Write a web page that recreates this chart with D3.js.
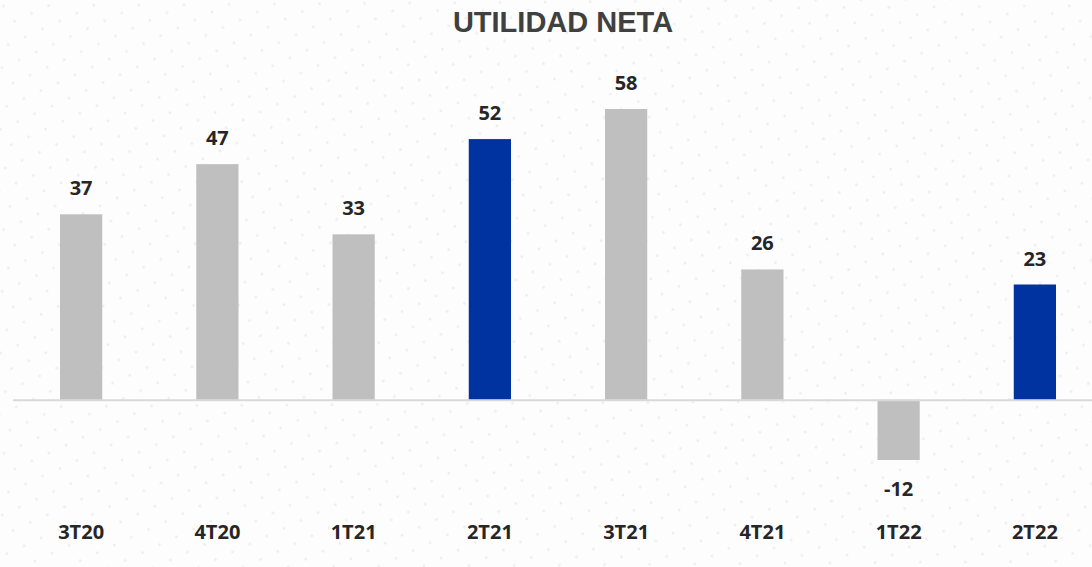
<!DOCTYPE html>
<html lang="es">
<head>
<meta charset="UTF-8">
<title>Utilidad neta</title>
<script src="https://cdn.jsdelivr.net/npm/d3@7"></script>
<style>
  body { margin: 0; background: #fdfdfd; }
  svg { display: block; }
</style>
</head>
<body>
<div id="root"></div>
<script>
  // datos
  const quarters = ['3T20', '4T20', '1T21', '2T21', '3T21', '4T21', '1T22', '2T22'];
  const utilidad = [37, 47, 33, 52, 58, 26, -12, 23];
  const highlighted = ['2T21', '2T22'];

  const width = 1092, height = 567;
  const grey = '#bfbfbf', blue = '#0033a0';

  const svg = d3.select('#root').append('svg')
    .attr('width', width)
    .attr('height', height);

  // fondo punteado tenue
  const pat = svg.append('defs').append('pattern')
    .attr('id', 'dots')
    .attr('width', 29).attr('height', 24)
    .attr('patternUnits', 'userSpaceOnUse')
    .attr('patternTransform', 'rotate(15)');
  pat.append('circle').attr('cx', 5).attr('cy', 5).attr('r', 1.4).attr('fill', '#eeeeee');
  pat.append('circle').attr('cx', 19.5).attr('cy', 17).attr('r', 1.4).attr('fill', '#eeeeee');
  svg.append('rect').attr('width', width).attr('height', height).attr('fill', '#fdfdfd');
  svg.append('rect').attr('width', width).attr('height', height).attr('fill', 'url(#dots)');

  svg.append('text')
    .attr('x', 563).attr('y', 32)
    .attr('text-anchor', 'middle')
    .style('font-family', '"Liberation Sans", Arial, sans-serif')
    .style('font-weight', 'bold')
    .style('font-size', '29px')
    .attr('fill', '#404040')
    .text('UTILIDAD NETA');

  const x = d3.scaleBand()
    .domain(quarters)
    .range([13, 1103])
    .paddingInner(0.69)
    .paddingOuter(0.345);

  const y = d3.scaleLinear()
    .domain([-12, 58])
    .range([460, 109]);

  const data = quarters.map((q, i) => ({q: q, v: utilidad[i]}));

  svg.selectAll('rect.bar')
    .data(data)
    .enter()
    .append('rect')
    .attr('class', 'bar')
    .attr('x', d => x(d.q))
    .attr('width', x.bandwidth())
    .attr('y', d => Math.min(y(d.v), y(0)))
    .attr('height', d => Math.abs(y(d.v) - y(0)))
    .attr('fill', d => highlighted.includes(d.q) ? blue : grey);

  // linea base
  svg.append('line')
    .attr('x1', 13).attr('x2', width)
    .attr('y1', y(0) + 0.5).attr('y2', y(0) + 0.5)
    .attr('stroke', '#d9d9d9')
    .attr('stroke-width', 2);

  const labelFont = '"Open Sans", "Noto Sans", sans-serif';

  svg.selectAll('text.val')
    .data(data)
    .enter()
    .append('text')
    .attr('class', 'val')
    .attr('x', d => x(d.q) + x.bandwidth() / 2)
    .attr('y', d => d.v >= 0 ? y(d.v) - 19 : y(d.v) + 36)
    .attr('text-anchor', 'middle')
    .style('font-family', labelFont)
    .style('font-weight', 700)
    .style('font-size', '20px')
    .attr('fill', '#262626')
    .text(d => d.v);

  svg.selectAll('text.cat')
    .data(quarters)
    .enter()
    .append('text')
    .attr('class', 'cat')
    .attr('x', d => x(d) + x.bandwidth() / 2)
    .attr('y', 539)
    .attr('text-anchor', 'middle')
    .style('font-family', labelFont)
    .style('font-weight', 700)
    .style('font-size', '20px')
    .attr('fill', '#262626')
    .text(d => d);
</script>
</body>
</html>
